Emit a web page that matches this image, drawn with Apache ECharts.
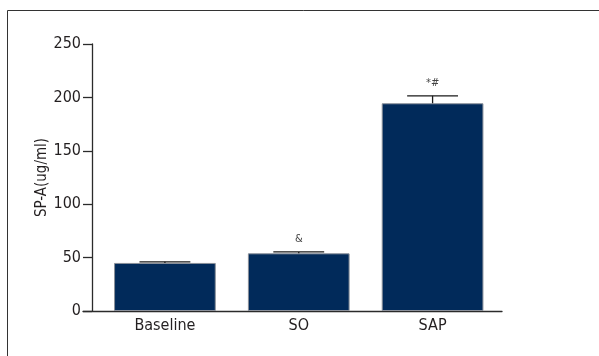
<!DOCTYPE html>
<html>
<head>
<meta charset="utf-8">
<script src="https://cdn.jsdelivr.net/npm/echarts@6/dist/echarts.min.js"></script>
<style>
  html, body { margin: 0; padding: 0; background: #fff; }
  #chart { width: 599px; height: 356px; }
</style>
</head>
<body>
<div id="chart"></div>
<script>
// SP-A levels per group (mean and upper error)
const categories = ['Baseline', 'SO', 'SAP'];
const meanValues = [45, 54, 194.5];
const errorValues = [1, 1.3, 7];
const significanceMarks = ['', '&', '*#'];
const yMin = 0, yMax = 250, yStep = 50;

const FONT = "'DejaVu Sans Condensed', 'Liberation Sans Narrow', sans-serif";
const AXIS_COLOR = '#2b2b2b';
const TEXT_COLOR = '#231f20';
const BAR_COLOR = '#012a5a';
const BAR_WIDTH_RATIO = 0.76;

const errorData = categories.map((c, i) => [i, meanValues[i], errorValues[i]]);

const chart = echarts.init(document.getElementById('chart'), null, { renderer: 'canvas' });

chart.setOption({
  animation: false,
  backgroundColor: '#ffffff',
  graphic: [{
    type: 'rect',
    shape: { x: 7.5, y: 10.5, width: 700, height: 500 },
    style: { fill: 'none', stroke: '#333', lineWidth: 1 },
    silent: true
  }],
  grid: [
    { left: 98, right: 99.5, top: 44, bottom: 45, containLabel: false },
    { left: 83, right: 97, top: 44, bottom: 45, containLabel: false }
  ],
  xAxis: [
    {
      type: 'category',
      gridIndex: 0,
      data: categories,
      axisLine: { show: false },
      axisTick: { show: false },
      axisLabel: {
        color: TEXT_COLOR,
        fontFamily: FONT,
        fontSize: 16,
        margin: 7
      }
    },
    {
      // baseline running under the whole plot, past the y axis
      type: 'value',
      gridIndex: 1,
      min: 0, max: 1,
      axisLine: { show: true, lineStyle: { color: AXIS_COLOR, width: 1.3 } },
      axisTick: { show: false },
      axisLabel: { show: false },
      splitLine: { show: false }
    }
  ],
  yAxis: [
    {
      type: 'value',
      gridIndex: 0,
      min: yMin, max: yMax, interval: yStep,
      offset: 6,
      name: 'SP-A(ug/ml)',
      nameLocation: 'middle',
      nameGap: 42,
      nameMoveOverlap: false,
      nameTextStyle: { color: TEXT_COLOR, fontFamily: FONT, fontSize: 15 },
      axisLine: { show: true, lineStyle: { color: AXIS_COLOR, width: 1.3 } },
      axisTick: { show: true, inside: false, length: 9, lineStyle: { color: AXIS_COLOR, width: 1.3 } },
      axisLabel: { color: TEXT_COLOR, fontFamily: FONT, fontSize: 16, margin: 11 },
      splitLine: { show: false }
    },
    {
      type: 'value',
      gridIndex: 1,
      min: 0, max: 1,
      show: false
    }
  ],
  series: [
    {
      type: 'bar',
      xAxisIndex: 0, yAxisIndex: 0,
      data: meanValues,
      barWidth: (BAR_WIDTH_RATIO * 100) + '%',
      itemStyle: { color: BAR_COLOR, borderColor: '#8a8f99', borderWidth: 1 },
      z: 2
    },
    {
      type: 'custom',
      xAxisIndex: 0, yAxisIndex: 0,
      data: errorData,
      encode: { x: 0, y: 1 },
      z: 3,
      renderItem: function (params, api) {
        const idx = api.value(0);
        const mean = api.value(1);
        const err = api.value(2);
        const top = api.coord([idx, mean]);
        const cap = api.coord([idx, mean + err]);
        const band = api.size([1, 0])[0];
        const half = band * BAR_WIDTH_RATIO / 4;
        const lineStyle = { stroke: '#1a1a1a', lineWidth: 1.3 };
        return {
          type: 'group',
          children: [
            { type: 'line', shape: { x1: cap[0], y1: top[1], x2: cap[0], y2: cap[1] }, style: lineStyle },
            { type: 'line', shape: { x1: cap[0] - half, y1: cap[1], x2: cap[0] + half, y2: cap[1] }, style: lineStyle },
            {
              type: 'text',
              x: cap[0], y: cap[1] - 13,
              style: {
                text: significanceMarks[idx],
                fill: '#444',
                font: '11px ' + FONT,
                align: 'center',
                verticalAlign: 'middle'
              }
            }
          ]
        };
      }
    }
  ]
});
</script>
</body>
</html>
